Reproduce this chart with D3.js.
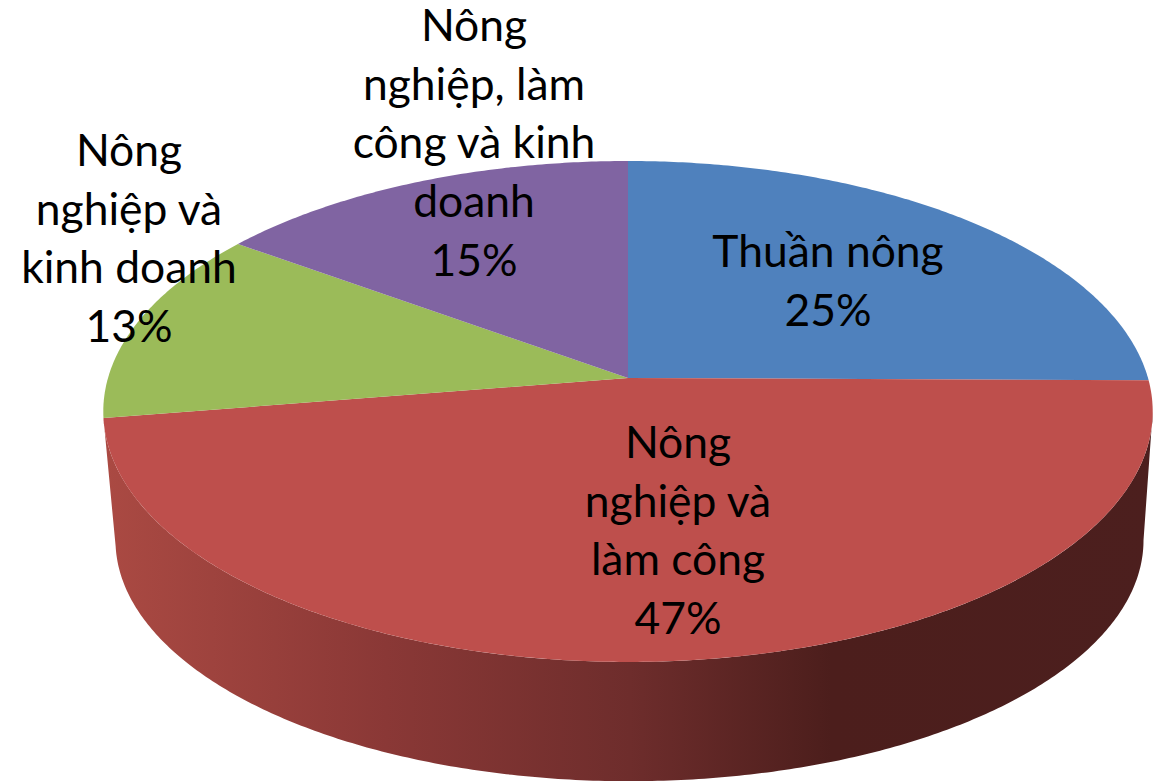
<!DOCTYPE html>
<html><head><meta charset="utf-8">
<style>html,body{margin:0;padding:0;background:#fff}svg{display:block}</style>
<script src="https://cdn.jsdelivr.net/npm/d3@7"></script></head>
<body><svg id="c" width="1169" height="781"></svg>
<script>
const categories = ["Thuần nông","Nông nghiệp và làm công","Nông nghiệp và kinh doanh","Nông nghiệp, làm công và kinh doanh"];
const values = [25.15,47.3,12.55,15];
const labelLines = [["Thuần nông"],["Nông","nghiệp và","làm công"],["Nông","nghiệp và","kinh doanh"],["Nông","nghiệp, làm","công và kinh","doanh"]];
const colors = ["#4F81BD","#BE4F4C","#9BBB59","#8064A2"];
const labelAnchors = [[828,267],[678,458],[129,166],[474,41]];

const svg = d3.select("#c");
const k = 0.1337;
const topDisc = {cx:628,cy:378,a:520,b:246};
const botDisc = {cx:629.5,cy:508,a:509.4,b:236.7};
const proj = (d,t)=>{const u=Math.sin(t),v=-Math.cos(t),w=1-k*v;return [d.cx+d.a*u/w,d.cy+d.b*v/w];};
const arcPts = (d,t0,t1)=>{const n=Math.max(2,Math.ceil(Math.abs(t1-t0)/0.01));return d3.range(n+1).map(i=>proj(d,t0+(t1-t0)*i/n));};
const line = d3.line();
const arcs = d3.pie().sort(null)(values);

const grad = svg.append("defs").append("linearGradient").attr("id","side")
  .attr("gradientUnits","userSpaceOnUse").attr("x1",100).attr("x2",1160).attr("y1",0).attr("y2",0);
[[0,"#AB4A43"],[0.27,"#8A3836"],[0.5,"#6E2D2C"],[0.69,"#4C1E1C"],[1,"#4C1F1E"]]
  .forEach(s=>grad.append("stop").attr("offset",s[0]).attr("stop-color",s[1]));

// Side wall of the red slice, the only one facing the viewer
const red = arcs[1];
const sideStart = Math.PI*97.7/180, sideEnd = red.endAngle;
svg.append("path").attr("fill","url(#side)")
  .attr("d",line([...arcPts(topDisc,sideStart,sideEnd),...arcPts(botDisc,sideEnd,sideStart)])+"Z");

svg.append("g").selectAll("path").data(arcs).join("path")
  .attr("fill",(d,i)=>colors[i])
  .attr("d",d=>line([[topDisc.cx,topDisc.cy],...arcPts(topDisc,d.startAngle,d.endAngle)])+"Z");

const lh = 58.7;
const pct = d3.format(".0f");
const g = svg.append("g").attr("font-family","Lato, 'Open Sans', sans-serif").attr("font-size",44.4).attr("fill","#000").attr("text-anchor","middle");
arcs.forEach((d,i)=>{
  const ls=[...labelLines[i],pct(values[i])+"%"];
  ls.forEach((s,j)=>g.append("text").attr("x",labelAnchors[i][0]).attr("y",labelAnchors[i][1]+j*lh).text(s));
});
</script></body></html>
